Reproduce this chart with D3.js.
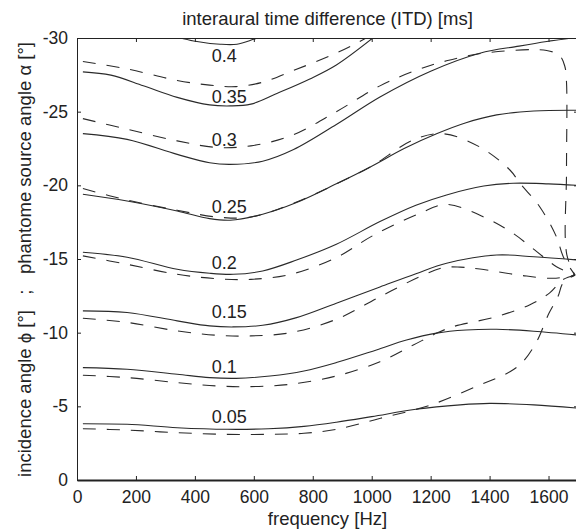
<!DOCTYPE html>
<html>
<head>
<meta charset="utf-8">
<script src="https://cdn.jsdelivr.net/npm/d3@7"></script>
<style>
  body { margin: 0; background: #fff; }
  svg { display: block; }
  text { font-family: "Liberation Sans", Arial, Helvetica, sans-serif; fill: #222; }
</style>
</head>
<body>
<script>
// ITD contour levels [ms]
var itdLevels = [0.05, 0.1, 0.15, 0.2, 0.25, 0.3, 0.35, 0.4];

// angle where each level label sits
var labelAngles = [-3.89, -7.24, -10.98, -14.3, -18.1, -22.7, -25.6, -28.4];
var labelFreq = 457;

var xTicks = [0, 200, 400, 600, 800, 1000, 1200, 1400, 1600];
var yTicks = [0, -5, -10, -15, -20, -25, -30];

// solid lines: incidence angle phi  [frequency Hz, angle deg]
var solid005 = [[20,-3.82],[170,-3.78],[340,-3.55],[510,-3.44],[650,-3.48],[770,-3.64],[880,-3.92],[1000,-4.3],[1150,-4.8],[1300,-5.1],[1400,-5.2],[1550,-5.1],[1700,-4.88]];
var solid010 = [[20,-7.63],[170,-7.52],[340,-7.18],[450,-6.95],[540,-6.9],[655,-7.06],[770,-7.4],[880,-7.97],[1016,-8.83],[1118,-9.5],[1220,-9.97],[1320,-10.18],[1424,-10.23],[1550,-10.1],[1700,-9.84]];
var solid015 = [[20,-11.48],[170,-11.37],[340,-10.8],[450,-10.46],[530,-10.39],[630,-10.5],[745,-11.02],[880,-12.0],[1028,-13.1],[1150,-14.0],[1254,-14.71],[1424,-15.27],[1550,-15.15],[1700,-14.93]];
var solid020 = [[20,-15.46],[170,-15.12],[340,-14.3],[450,-14.03],[530,-13.96],[630,-14.19],[745,-14.93],[880,-16.0],[1028,-17.54],[1150,-18.65],[1254,-19.35],[1380,-19.95],[1480,-20.14],[1600,-20.1],[1700,-20.0]];
var solid025 = [[20,-19.4],[170,-18.94],[340,-18.26],[450,-17.74],[520,-17.63],[630,-18.04],[745,-18.83],[880,-20.1],[1000,-21.3],[1110,-22.5],[1220,-23.5],[1320,-24.25],[1424,-24.78],[1550,-25.05],[1700,-25.1]];
var solid030 = [[20,-23.51],[170,-23.12],[340,-22.1],[450,-21.53],[520,-21.42],[630,-21.64],[735,-22.43],[880,-24.13],[1028,-26.0],[1200,-27.75],[1367,-28.97],[1500,-29.45],[1594,-29.76],[1700,-30.05]];
var solid035 = [[20,-27.7],[115,-27.48],[225,-26.76],[340,-25.97],[450,-25.46],[520,-25.39],[590,-25.51],[680,-26.25],[790,-27.22],[880,-28.17],[1010,-30.1]];
var solid040 = [[328,-30.14],[396,-29.8],[486,-29.58],[543,-29.58],[599,-29.91],[633,-30.14]];

// dashed lines: phantom source angle alpha
var dashed005 = [[20,-3.48],[170,-3.39],[340,-3.21],[510,-3.1],[655,-3.1],[770,-3.17],[880,-3.44],[1030,-4.19],[1200,-5.09],[1367,-6.45],[1469,-7.35],[1513,-8.03],[1560,-9.4],[1601,-11.3],[1632,-12.45],[1650,-13.4],[1690,-13.9]];
var dashed010 = [[20,-7.11],[170,-6.95],[340,-6.61],[475,-6.38],[590,-6.34],[725,-6.5],[880,-7.06],[1028,-8.03],[1141,-9.16],[1221,-9.97],[1275,-10.4],[1425,-11.1],[1537,-11.9],[1604,-12.7],[1649,-13.6],[1690,-13.9]];
var dashed015 = [[20,-10.98],[170,-10.7],[340,-10.12],[475,-9.82],[590,-9.78],[725,-10.0],[880,-10.91],[1028,-12.44],[1163,-13.8],[1242,-14.41],[1300,-14.45],[1367,-14.32],[1503,-13.9],[1615,-13.69],[1690,-13.9]];
var dashed020 = [[20,-15.21],[170,-14.64],[340,-13.96],[475,-13.66],[590,-13.62],[725,-13.96],[880,-15.1],[1005,-16.6],[1163,-18.1],[1254,-18.7],[1390,-17.76],[1479,-16.75],[1560,-15.5],[1627,-14.48],[1690,-13.9]];
var dashed025 = [[20,-19.78],[170,-19.0],[340,-18.31],[475,-17.85],[590,-17.85],[745,-18.87],[880,-20.1],[1000,-21.3],[1141,-23.08],[1242,-23.5],[1367,-22.6],[1469,-21.04],[1503,-20.14],[1570,-18.55],[1627,-16.5],[1650,-15.16],[1690,-13.9]];
var dashed030 = [[20,-24.53],[170,-23.81],[340,-23.02],[475,-22.57],[590,-22.68],[725,-23.36],[880,-25.0],[1028,-26.75],[1150,-27.8],[1254,-28.45],[1390,-29.0],[1594,-29.15],[1638,-28.8],[1655,-28.1],[1661,-27],[1661,-21],[1662,-15.3],[1690,-13.9]];
var dashed035 = [[20,-28.41],[170,-27.9],[340,-27.12],[450,-26.8],[540,-26.7],[630,-27.0],[735,-27.8],[860,-28.8],[937,-29.53],[990,-30.1]];

var solidLines = [solid005, solid010, solid015, solid020, solid025, solid030, solid035, solid040];
var dashedLines = [dashed005, dashed010, dashed015, dashed020, dashed025, dashed030, dashed035];

var margin = { top: 38, right: -2, bottom: 51, left: 77 },
  W = 576, H = 531,
  width = W - margin.left - margin.right,
  height = H - margin.top - margin.bottom;

var x = d3.scaleLinear().domain([0, 1700]).range([0, width]);
var y = d3.scaleLinear().domain([0, -30]).range([height, 0]);

var svg = d3.select('body').append('svg')
  .attr('width', W)
  .attr('height', H);

var g = svg.append('g')
  .attr('transform', 'translate(' + margin.left + ',' + margin.top + ')');

g.append('clipPath').attr('id', 'plotclip')
  .append('rect').attr('width', width).attr('height', height);

var line = d3.line()
  .x(function (d) { return x(d[0]); })
  .y(function (d) { return y(d[1]); })
  .curve(d3.curveCatmullRom.alpha(0.5));

var plot = g.append('g').attr('clip-path', 'url(#plotclip)');

plot.selectAll('.solid')
  .data(solidLines)
  .enter().append('path')
  .attr('class', 'solid')
  .attr('d', line)
  .attr('fill', 'none')
  .attr('stroke', '#2a2a2a')
  .attr('stroke-width', 1.1);

plot.selectAll('.dashed')
  .data(dashedLines)
  .enter().append('path')
  .attr('class', 'dashed')
  .attr('d', line)
  .attr('fill', 'none')
  .attr('stroke', '#2a2a2a')
  .attr('stroke-width', 1.1)
  .attr('stroke-dasharray', '13,11');

// contour labels
g.selectAll('.lvl')
  .data(itdLevels)
  .enter().append('text')
  .attr('class', 'lvl')
  .attr('x', x(labelFreq))
  .attr('y', function (d, i) { return y(labelAngles[i]); })
  .style('font-size', '18px')
  .text(function (d) { return String(d); });

// axes
var xAxis = d3.axisBottom(x).tickValues(xTicks).tickSizeInner(-4).tickSizeOuter(0).tickPadding(11)
  .tickFormat(function (d) { return String(d); });
var xAxisTop = d3.axisTop(x).tickValues(xTicks).tickSizeInner(-4).tickSizeOuter(0).tickFormat('');
var yAxis = d3.axisLeft(y).tickValues(yTicks).tickSizeInner(-4).tickSizeOuter(0).tickPadding(9)
  .tickFormat(function (d) { return String(d); });
var yAxisRight = d3.axisRight(y).tickValues(yTicks).tickSizeInner(-4).tickSizeOuter(0).tickFormat('');

var gx = g.append('g').attr('transform', 'translate(0,' + height + ')').call(xAxis);
g.append('g').call(xAxisTop);
var gy = g.append('g').call(yAxis);
g.append('g').attr('transform', 'translate(' + width + ',0)').call(yAxisRight);

g.selectAll('.domain').attr('stroke', '#222');
g.selectAll('.tick line').attr('stroke', '#222');
gx.select('.domain').attr('stroke-width', 2);
g.selectAll('.tick text')
  .style('font-family', '"Liberation Sans", Arial, Helvetica, sans-serif')
  .style('font-size', '17.5px')
  .attr('fill', '#222');

// titles
svg.append('text')
  .attr('x', margin.left + width / 2)
  .attr('y', 25)
  .attr('text-anchor', 'middle')
  .style('font-size', '18.5px')
  .text('interaural time difference (ITD) [ms]');

svg.append('text')
  .attr('x', margin.left + width / 2)
  .attr('y', 525)
  .attr('text-anchor', 'middle')
  .style('font-size', '18.5px')
  .text('frequency [Hz]');

svg.append('text')
  .attr('transform', 'translate(31,' + 259.5 + ') rotate(-90)')
  .attr('text-anchor', 'middle')
  .style('font-size', '18.5px')
  .style('white-space', 'pre')
  .text('incidence angle \u03d5 [\u00b0]   ;   phantome source angle \u03b1 [\u00b0]');
</script>
</body>
</html>
